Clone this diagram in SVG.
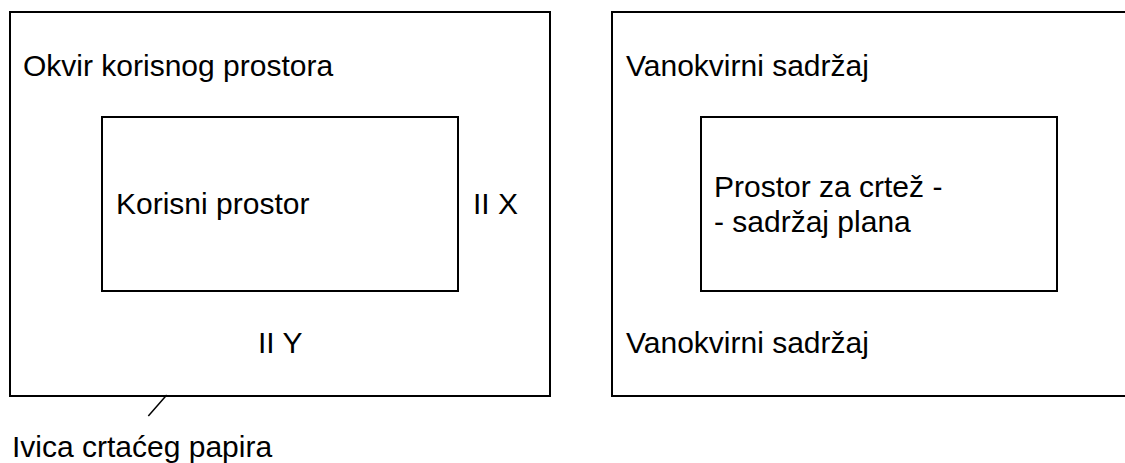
<svg xmlns="http://www.w3.org/2000/svg" width="1125" height="463" viewBox="0 0 1125 463">
<style>
.box{fill:none;stroke:#000;stroke-width:2}
.t{font-family:"Liberation Sans",Arial,sans-serif;font-size:30px;fill:#000}
.lead{stroke:#000;stroke-width:1.5;fill:none}
</style>
<rect width="1125" height="463" fill="#fff"/>
<g id="okvir-korisnog-prostora">
<rect class="box" x="10" y="12" width="540" height="384"/>
<text class="t" x="23" y="76">Okvir korisnog prostora</text>
<text class="t" x="473" y="214">II X</text>
<text class="t" x="258" y="353">II Y</text>
</g>
<g id="korisni-prostor">
<rect class="box" x="102" y="117" width="356" height="174"/>
<text class="t" x="116" y="214">Korisni prostor</text>
</g>
<g id="vanokvirni">
<rect class="box" x="612" y="12" width="530" height="384"/>
<text class="t" x="626" y="76">Vanokvirni sadržaj</text>
<text class="t" x="626" y="353">Vanokvirni sadržaj</text>
</g>
<g id="prostor-za-crtez">
<rect class="box" x="701" y="117" width="356" height="174"/>
<text class="t" x="714" y="197">Prostor za crtež -</text>
<text class="t" x="714" y="232">- sadržaj plana</text>
</g>
<g id="ivica">
<text class="t" x="12" y="457">Ivica crtaćeg papira</text>
</g>
<g id="connectors">
<line class="lead" x1="166.7" y1="395" x2="148.3" y2="416"/>
</g>
</svg>
